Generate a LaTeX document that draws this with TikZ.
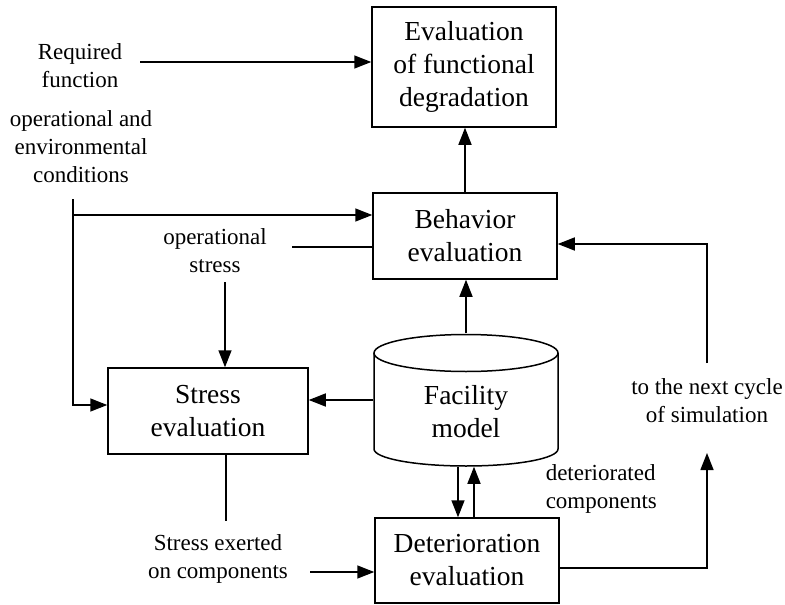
\documentclass[tikz,border=0pt]{standalone}
\usepackage{fontspec}
\setmainfont{Liberation Serif}
\usetikzlibrary{arrows.meta}
\begin{document}
\begin{tikzpicture}[x=1pt,y=-1pt,
  line width=1.5pt,
  arr/.style={-{Triangle[length=17pt,width=13pt]}},
  blk/.style={draw, rectangle, inner sep=0pt, align=center,
    font=\fontsize{27.5}{33}\selectfont},
  lbl/.style={inner sep=0pt, align=center, font=\fontsize{23}{28}\selectfont}]
\useasboundingbox (0,0) rectangle (785,605);

% process blocks
\node[blk, minimum width=184pt, minimum height=120pt] (eval) at (464,67)
  {Evaluation\\of functional\\degradation};
\node[blk, minimum width=184pt, minimum height=86pt] (beh) at (465,236)
  {Behavior\\evaluation};
\node[blk, minimum width=200pt, minimum height=86pt] (stress) at (208,411)
  {Stress\\evaluation};
\node[blk, minimum width=184pt, minimum height=85pt] (det) at (467,560.5)
  {Deterioration\\evaluation};

% facility model database (cylinder)
\node[inner sep=0pt, minimum width=184pt, minimum height=132pt] (fac) at (466,400) {};
\draw (466,353) ellipse [x radius=92, y radius=18.5];
\draw (374,353) -- (374,449) arc[start angle=180, end angle=0, x radius=92, y radius=17] -- (558,353);
\node[blk, draw=none] (factext) at (466,412) {Facility\\model};

% labels
\node[lbl] (req) at (80,66) {Required\\function};
\node[lbl] (opc) at (81,146.5) {operational and\\environmental\\conditions};
\node[lbl] (ops) at (215,251) {operational\\stress};
\node[lbl] (sec) at (218,558.5) {Stress exerted\\on components};
\node[lbl, align=left, anchor=west] (dcp) at (545,489) {deteriorated\\components};
\node[lbl] (nxt) at (707,401) {to the next cycle\\of simulation};

% free ends of connectors
\coordinate (reqout) at (140,62);
\coordinate (opctop) at (73,199);
\coordinate (opcbr) at (73,215);
\coordinate (opsin) at (292,247);
\coordinate (opsout) at (225,282);
\coordinate (secin) at (226,521);
\coordinate (secout) at (310,572);
\coordinate (nxtin) at (707,453);
\coordinate (nxtout) at (707,363);

% connectors
\draw[arr] (reqout) -- (reqout -| eval.west);
\draw[arr] (opctop) |- ([yshift=6pt]stress.west);
\draw[arr] (opcbr) -- (opcbr -| beh.west);
\draw (opsin -| beh.west) -- (opsin);
\draw[arr] (opsout) -- (opsout |- stress.north);
\draw[arr] (fac.west) -- (fac.west -| stress.east);
\draw[arr] (fac.north) -- (fac.north |- beh.south);
\draw[arr] (beh.north) -- (beh.north |- eval.south);
\draw (secin |- stress.south) -- (secin);
\draw[arr] (secout) -- (secout -| det.west);
\draw[arr] ([xshift=-8pt]fac.south) -- ([xshift=-8pt]fac.south |- det.north);
\draw[arr] ([xshift=8pt]fac.south |- det.north) -- ([xshift=8pt]fac.south);
\draw[arr] ([yshift=-7.5pt]det.east) -| (nxtin);
\draw[arr] (nxtout) |- ([yshift=-8pt]beh.east);
\end{tikzpicture}
\end{document}
